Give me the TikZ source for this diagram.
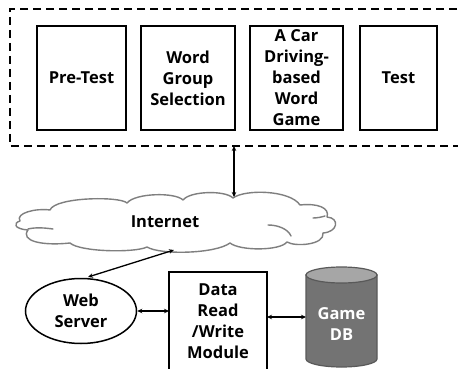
\documentclass[tikz,border=0pt]{standalone}
\usepackage{fontspec}
\setmainfont{Open Sans}
\usetikzlibrary{shapes.geometric,arrows.meta}
\definecolor{cloudline}{HTML}{7F7F7F}
\definecolor{dbbody}{HTML}{737373}
\definecolor{dbtop}{HTML}{A6A6A6}
\definecolor{dbline}{HTML}{595959}
\begin{document}
\begin{tikzpicture}[x=1pt,y=-1pt,
  lbl/.style={font=\fontsize{16.5}{21}\selectfont\bfseries, align=center},
  stagebox/.style={lbl, draw=black, line width=1.5pt, minimum height=104pt, inner sep=0pt},
  conn/.style={{Stealth[length=5pt,width=4.5pt]}-{Stealth[length=5pt,width=4.5pt]}, line width=1.3pt},
  cloudstroke/.style={draw=cloudline, line width=1.4pt, line join=round, line cap=round}
]
\useasboundingbox (0,0) rectangle (458,369);
\fill[white] (0,0) rectangle (458,369);
% dashed frame
\draw[line width=1.8pt, dash pattern=on 8pt off 5pt] (470,9) -- (10,9) -- (10,146) -- (470,146);
\coordinate (frameb) at (234,146);
% stages
\node[stagebox, minimum width=89pt] (pre) at (81.5,78) {Pre-Test};
\node[stagebox, minimum width=94pt] (wgs) at (188,78) {Word\\Group\\Selection};
\node[stagebox, minimum width=93pt] (car) at (296.5,78) {A Car\\Driving-\\based\\Word\\Game};
\node[stagebox, minimum width=77pt] (test) at (398.5,78) {Test};
% cloud
\path[cloudstroke, fill=white]
  (20,221) .. controls (15,213) and (36,208) .. (50,210)
  .. controls (55,197) and (120,196) .. (127,203)
  .. controls (135,193) and (175,192) .. (183,200)
  .. controls (190,191) and (225,190) .. (233,198)
  .. controls (245,189) and (290,190) .. (300,205)
  .. controls (318,203) and (330,208) .. (327,217)
  .. controls (340,218) and (338,232) .. (323,233)
  .. controls (325,245) and (295,247) .. (287,242)
  .. controls (280,251) and (240,251) .. (230,243)
  .. controls (215,254) and (160,255) .. (147,247)
  .. controls (135,253) and (80,252) .. (70,243)
  .. controls (42,246) and (20,241) .. (28,230)
  .. controls (14,229) and (13,223) .. (20,221) -- cycle;
\draw[cloudstroke] (28,229) .. controls (36,227) and (46,228) .. (53,229);
\draw[cloudstroke] (268,225) .. controls (278,225) and (288,229) .. (291,236);
\draw[cloudstroke] (313,218) .. controls (317,218) and (322,217) .. (325,216);
\node[lbl] (net) at (165,222) {Internet};
\coordinate (netb) at (234,197);
\coordinate (netc) at (174,250);
% web server
\node[ellipse, draw=black, line width=1.5pt, minimum width=111pt, minimum height=65pt, inner sep=0pt, lbl] (web) at (81,311) {Web\\Server};
\coordinate (webtop) at (88,277);
% data module
\draw[line width=1.5pt] (169,400) -- (169,272) -- (267,272) -- (267,400);
\node[lbl] (data) at (218,321) {Data\\Read\\/Write\\Module};
\coordinate (dataL) at (169,311);
\coordinate (dataR) at (267,317);
% DB cylinder
\path[fill=dbbody, draw=dbline, line width=1.2pt]
  (306,275) -- (306,359) arc[start angle=180, end angle=360, x radius=35.5pt, y radius=8pt] -- (377,275) -- cycle;
\path[fill=dbtop, draw=dbline, line width=1.2pt] (341.5,275) ellipse[x radius=35.5pt, y radius=8pt];
\node[lbl, text=white] (db) at (341.5,324) {Game\\DB};
\coordinate (dbL) at (306,317);
% connectors
\draw[conn] (frameb) -- (netb);
\draw[conn] (netc) -- (webtop);
\draw[conn] (web.east) -- (dataL);
\draw[conn] (dataR) -- (dbL);
\end{tikzpicture}
\end{document}
